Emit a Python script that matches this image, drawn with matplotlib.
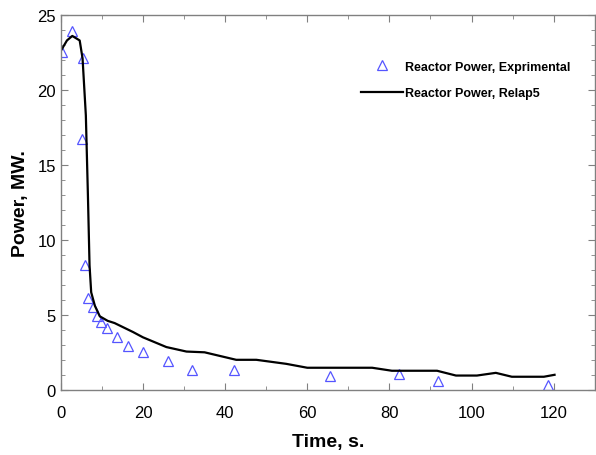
import matplotlib.pyplot as plt
from matplotlib.ticker import MultipleLocator

plt.rcParams['font.family'] = ['Liberation Sans', 'DejaVu Sans']

# Experimental reactor power (MW) vs time (s)
t_exp = [0.3, 2.7, 5.1, 5.4, 5.8, 6.7, 7.8, 8.7, 9.7, 11.3, 13.8, 16.4, 20.0,
         26.2, 31.9, 42.1, 65.6, 82.3, 91.8, 118.6]
p_exp = [22.5, 23.9, 16.7, 22.1, 8.3, 6.1, 5.5, 4.9, 4.5, 4.1, 3.5, 2.9, 2.5,
         1.93, 1.33, 1.33, 0.93, 1.07, 0.6, 0.33]

# Relap5 calculation
t_rel = [0.0, 1.5, 2.8, 4.6, 5.3, 6.1, 6.6, 7.0, 7.4, 8.3, 9.5, 11.4, 13.1,
         17.6, 20.0, 25.7, 30.6, 35.0, 42.7, 47.6, 54.9, 60.0, 75.8, 80.6,
         91.6, 96.2, 101.3, 105.9, 109.8, 117.6, 120.2]
p_rel = [22.6, 23.3, 23.6, 23.3, 22.1, 18.3, 13.0, 8.3, 6.5, 5.6, 4.9, 4.6,
         4.45, 3.85, 3.5, 2.85, 2.55, 2.5, 2.0, 2.0, 1.73, 1.47, 1.47, 1.27,
         1.27, 0.95, 0.95, 1.13, 0.87, 0.87, 1.0]

fig = plt.figure(figsize=(5.96, 4.56), dpi=100)
ax = fig.add_axes([0.102, 0.143, 0.896, 0.822])

ax.plot(t_exp, p_exp, linestyle='none', marker='^', markersize=7,
        markerfacecolor='none', markeredgecolor='#5555ff', markeredgewidth=0.9,
        label='Reactor Power, Exprimental')
ax.plot(t_rel, p_rel, color='black', linewidth=1.6, label='Reactor Power, Relap5')

ax.set_xlim(0, 130)
ax.set_ylim(0, 25)
ax.xaxis.set_minor_locator(MultipleLocator(10))
ax.yaxis.set_major_locator(MultipleLocator(5))
ax.yaxis.set_minor_locator(MultipleLocator(1))
ax.set_xticks([0, 20, 40, 60, 80, 100, 120])

for s in ax.spines.values():
    s.set_color('#808080')
    s.set_linewidth(1.0)
ax.tick_params(which='both', direction='in', top=True, right=True,
               color='#808080', labelsize=12)
ax.tick_params(which='major', length=5)
ax.tick_params(which='minor', length=3)
ax.tick_params(axis='x', pad=11)

ax.set_xlabel('Time, s.', fontsize=14, fontweight='bold', labelpad=9)
ax.set_ylabel('Power, MW.', fontsize=14, fontweight='bold', labelpad=6)

leg = ax.legend(loc='upper left', bbox_to_anchor=(0.55, 0.895), frameon=False,
                prop={'size': 9, 'weight': 'bold'}, handlelength=3.4,
                handletextpad=0.1, labelspacing=1.15, borderpad=0)

fig.savefig('out.png', dpi=100)
